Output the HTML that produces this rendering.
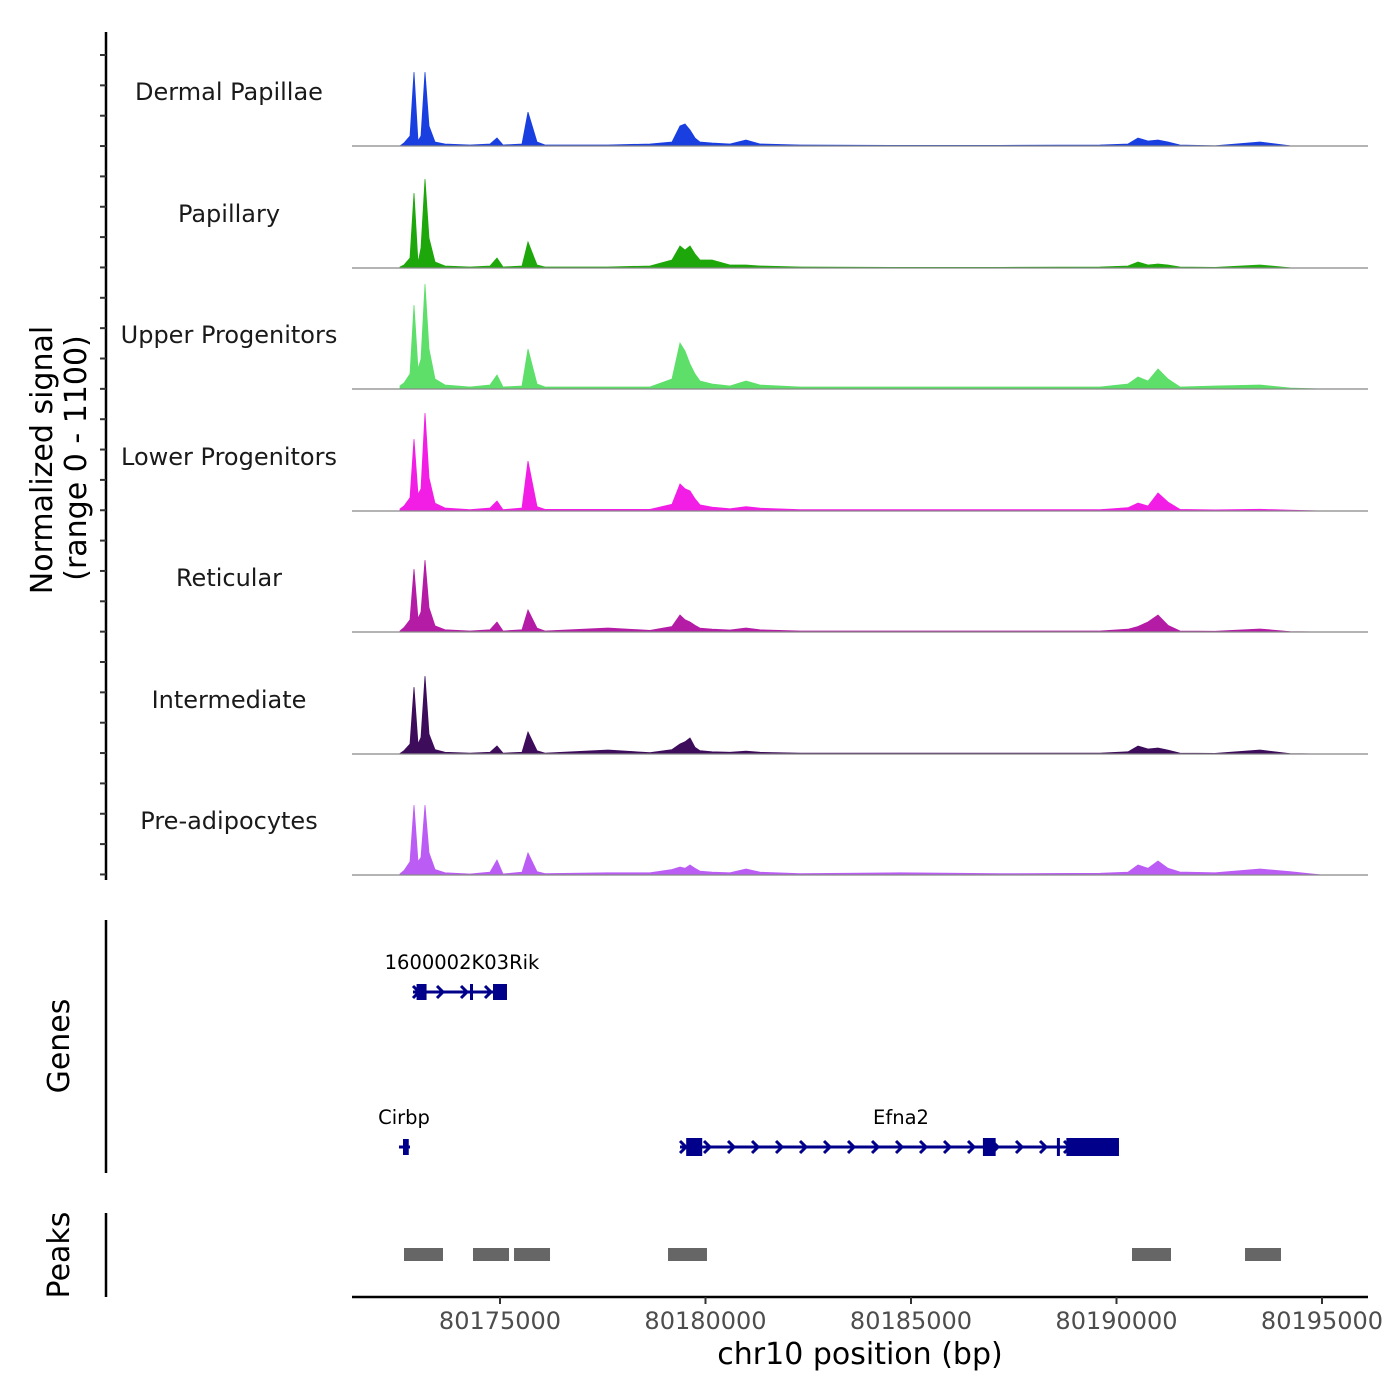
<!DOCTYPE html>
<html><head><meta charset="utf-8"><style>
body{margin:0;background:#fff}
svg{display:block;font-family:"DejaVu Sans","Liberation Sans",sans-serif}
</style></head><body>
<svg id="c" width="1400" height="1400" xmlns="http://www.w3.org/2000/svg"></svg>
<script>
const positions=[80172567,80172664,80172810,80172908,80173005,80173078,80173175,80173273,80173418,80173662,80174270,80174757,80174927,80175073,80175535,80175681,80175900,80176095,80177628,80178650,80179185,80179380,80179501,80179623,80179744,80179866,80180158,80180596,80180985,80181326,80182299,80184732,80187165,80189599,80190280,80190523,80190766,80191010,80191253,80191545,80192397,80193491,80194221,80195000];
const trackNames=["Dermal Papillae","Papillary","Upper Progenitors","Lower Progenitors","Reticular","Intermediate","Pre-adipocytes"];
const trackColors=["#1a3fe0","#1ea70a","#5ddf6a","#f21ee6","#b41ca6","#3d0c5a","#bb5cf5"];
const dermalVals=[0,27,90,666,45,90,666,180,36,18,9,18,72,9,18,306,36,9,9,18,36,180,198,144,72,36,27,18,54,18,9,5,5,9,18,72,45,54,36,9,2,36,2,0];
const papillaryVals=[9,27,90,675,45,180,801,270,54,18,9,18,90,9,18,234,27,9,9,18,72,198,162,198,126,72,72,27,27,18,9,5,5,9,18,54,27,36,27,9,5,27,2,0];
const upperVals=[27,54,135,756,180,270,945,360,90,36,18,36,126,18,27,360,45,18,18,18,90,414,342,225,135,72,45,27,72,36,18,18,18,18,45,108,72,180,90,18,27,36,9,0];
const lowerVals=[18,45,120,648,150,200,882,300,70,27,12,27,90,12,27,450,40,14,14,14,60,243,200,180,110,55,35,20,40,25,12,12,12,12,30,72,45,162,80,14,10,15,8,0];
const reticularVals=[10,40,110,567,120,180,648,220,55,20,9,20,90,9,20,198,35,9,36,14,50,153,110,90,60,35,25,18,36,20,9,9,9,9,25,50,90,153,60,9,6,27,4,0];
const intermediateVals=[5,30,90,603,90,150,702,180,40,15,8,15,72,8,15,198,30,8,36,12,40,90,110,144,60,30,20,15,25,15,8,8,8,8,20,72,45,54,35,8,5,36,3,0];
const preadipoVals=[10,40,120,630,120,160,630,200,50,20,9,25,135,9,25,198,30,12,20,20,50,72,60,90,60,35,25,20,54,25,12,20,12,15,25,90,60,126,60,27,20,54,30,0];
const trackValues=[dermalVals,papillaryVals,upperVals,lowerVals,reticularVals,intermediateVals,preadipoVals];
const xTicks=[80175000,80180000,80185000,80190000,80195000];
const peakStarts=[80172664,80174343,80175341,80179088,80190377,80193127];
const peakEnds=[80173613,80175219,80176217,80180036,80191326,80194002];
const genes=["1600002K03Rik","Cirbp","Efna2"];
const geneStarts=[80172883,80172542,80179380];
const geneEnds=[80175170,80172810,80190060];

const NS="http://www.w3.org/2000/svg";
const svg=document.getElementById('c');
function x(v){return 500+(v-80175000)*0.0411;}
function yv(v,base){return base-v/1100*122;}
function mk(t,a,p){const e=document.createElementNS(NS,t);for(const k in a)e.setAttribute(k,a[k]);(p||svg).appendChild(e);return e;}
const bases=[146,268,389,511,632,754,875];

let ax=mk('line',{x1:106,y1:32,x2:106,y2:880,stroke:'#000','stroke-width':2.5});


for(let i=0;i<28;i++){const yy=55+i*30.35;const t=mk('line',{x1:100,y1:yy,x2:106,y2:yy,stroke:'#333','stroke-width':2});

}
let yt=mk('text',{x:0,y:0,'font-size':30,'text-anchor':'middle',transform:'translate(52,460) rotate(-90)'});
yt.textContent='Normalized signal';


let yt2=mk('text',{x:0,y:0,'font-size':30,'text-anchor':'middle',transform:'translate(86,458) rotate(-90)'});
yt2.textContent='(range 0 - 1100)';



trackNames.forEach((n,i)=>{
  const b=bases[i];const vals=trackValues[i];
  let d='M'+x(positions[0])+','+b;
  positions.forEach((p,j)=>{d+=' L'+x(p).toFixed(1)+','+yv(vals[j],b).toFixed(1);});
  d+=' L'+x(positions[positions.length-1])+','+b+' Z';
  const a=mk('path',{d:d,fill:trackColors[i],stroke:trackColors[i],'stroke-width':0.8});
  
  
  const bl=mk('line',{x1:352,y1:b,x2:1368,y2:b,stroke:'#888','stroke-width':1.2});
  
  
  const lb=mk('text',{x:229,y:b-46,'font-size':24,'text-anchor':'middle',fill:'#1a1a1a'});
  lb.textContent=n;
  
  
});

let ga=mk('line',{x1:106,y1:920,x2:106,y2:1173,stroke:'#000','stroke-width':2.5});


let gt=mk('text',{x:0,y:0,'font-size':30,'text-anchor':'middle',transform:'translate(69,1046) rotate(-90)'});
gt.textContent='Genes';


const geneY=[992,1147,1147];
const geneLabelX=[462,404,901];
const exonSets=[[[80172970,80173213,16],[80174270,80174330,16],[80174830,80175170,16]],[[80172640,80172780,16]],[[80179530,80179920,18],[80186750,80187060,18],[80188550,80188610,18],[80188780,80190060,18]]];
const C='#00008b';
genes.forEach((g,i)=>{
  const yy=geneY[i];
  const grp=mk('g',{});
  
  
  mk('line',{x1:x(geneStarts[i]),y1:yy,x2:x(geneEnds[i]),y2:yy,stroke:C,'stroke-width':3},grp);
  const len=x(geneEnds[i])-x(geneStarts[i]);
  if(len>30){for(let ax2=x(geneStarts[i])+3;ax2<x(geneEnds[i])-5;ax2+=24){
    mk('polyline',{points:(ax2-3)+','+(yy-6)+' '+(ax2+3)+','+yy+' '+(ax2-3)+','+(yy+6),fill:'none',stroke:C,'stroke-width':3},grp);}}
  exonSets[i].forEach(e=>{mk('rect',{x:x(e[0]),y:yy-e[2]/2,width:Math.max(3,x(e[1])-x(e[0])),height:e[2],fill:C},grp);});
  const t=mk('text',{x:geneLabelX[i],y:yy-23,'font-size':19.5,'text-anchor':'middle',fill:'#000'},grp);
  t.textContent=g;
});

let pa=mk('line',{x1:106,y1:1213,x2:106,y2:1297,stroke:'#000','stroke-width':2.5});


let pt=mk('text',{x:0,y:0,'font-size':30,'text-anchor':'middle',transform:'translate(69,1255) rotate(-90)'});
pt.textContent='Peaks';


peakStarts.forEach((s,i)=>{
  const r=mk('rect',{x:x(s),y:1248,width:x(peakEnds[i])-x(s),height:13,fill:'#666'});
  
  
});

let xa=mk('line',{x1:352,y1:1297,x2:1368,y2:1297,stroke:'#000','stroke-width':2.5});


xTicks.forEach(v=>{
  const t=mk('line',{x1:x(v),y1:1297,x2:x(v),y2:1304,stroke:'#333','stroke-width':2});
  
  
  const l=mk('text',{x:x(v),y:1329,'font-size':24,'text-anchor':'middle',fill:'#4d4d4d'});
  l.textContent=v;
  
  
});
let xt=mk('text',{x:860,y:1364,'font-size':30,'text-anchor':'middle',fill:'#000'});
xt.textContent='chr10 position (bp)';


</script>
</body></html>
